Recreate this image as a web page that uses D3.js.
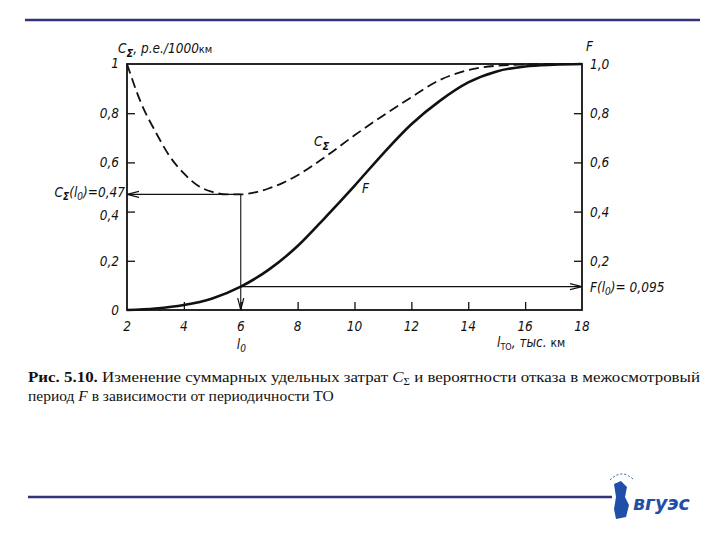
<!DOCTYPE html>
<html><head><meta charset="utf-8">
<script src="https://cdn.jsdelivr.net/npm/d3@7"></script>
<style>
body{margin:0;background:#fff}
svg{display:block}
.tk{font-family:"DejaVu Sans Condensed","Liberation Sans Narrow",sans-serif;font-style:italic;font-size:13.5px;fill:#111}
</style></head>
<body>
<svg id="c" width="720" height="540"></svg>
<script>
const xTicks = [2,4,6,8,10,12,14,16,18];
const yTicksLeft = [0,0.2,0.4,0.6,0.8,1];
const yLabelsLeft = ["0","0,2","0,4","0,6","0,8","1"];
const yTicksRight = [0.2,0.4,0.6,0.8,1];
const yLabelsRight = ["0,2","0,4","0,6","0,8","1,0"];
const costX = [2,2.5,3,3.5,4,4.5,5,5.5,6,6.5,7,7.5,8,9,10,11,12,13,14,15,16,17,18];
const costY = [1.0,0.84,0.725,0.625,0.555,0.505,0.48,0.47,0.47,0.478,0.495,0.518,0.548,0.625,0.71,0.79,0.865,0.935,0.975,0.993,0.998,1.0,1.0];
const failX = [2,3,4,5,6,7,8,9,10,11,12,13,14,15,16,17,18];
const failY = [0,0.006,0.02,0.047,0.095,0.165,0.26,0.38,0.505,0.635,0.755,0.85,0.925,0.97,0.99,0.997,1.0];
const l0 = 6, cAtL0 = 0.47, fAtL0 = 0.095;

const svg = d3.select("#c");
const x = d3.scaleLinear().domain([2,18]).range([127,582]);
const y = d3.scaleLinear().domain([0,1]).range([310,64]);

// decorative slide lines
svg.append("line").attr("x1",25).attr("x2",700).attr("y1",20).attr("y2",20).attr("stroke","#333377").attr("stroke-width",2.5);
svg.append("line").attr("x1",28).attr("x2",612).attr("y1",497).attr("y2",497).attr("stroke","#333377").attr("stroke-width",2.5);

const defs = svg.append("defs");
defs.append("marker").attr("id","arr").attr("viewBox","0 0 12 8").attr("refX",12).attr("refY",4)
  .attr("markerWidth",12).attr("markerHeight",8).attr("markerUnits","userSpaceOnUse").attr("orient","auto")
  .append("path").attr("d","M0,1 L12,4 L0,7").attr("fill","none").attr("stroke","#111").attr("stroke-width",1.2);

// frame
const g = svg.append("g");
g.append("rect").attr("x",x(2)).attr("y",y(1)).attr("width",x(18)-x(2)).attr("height",y(0)-y(1))
  .attr("fill","none").attr("stroke","#111").attr("stroke-width",1.8);

// ticks (inward)
const styleAx = s=>{s.select(".domain").remove();s.selectAll("line").attr("stroke","#111").attr("stroke-width",1.3);};
g.append("g").attr("transform",`translate(${x(2)},0)`).call(d3.axisRight(y).tickValues(yTicksLeft.slice(1,5)).tickSize(8).tickFormat("")).call(styleAx);
g.append("g").attr("transform",`translate(${x(18)},0)`).call(d3.axisLeft(y).tickValues(yTicksRight.slice(0,4)).tickSize(8).tickFormat("")).call(styleAx);
g.append("g").attr("transform",`translate(0,${y(0)})`).call(d3.axisTop(x).tickValues(xTicks.slice(1,8)).tickSize(8).tickFormat("")).call(styleAx);

// tick labels
yTicksLeft.forEach((v,i)=>{ if(v===0.4) return;
  g.append("text").attr("class","tk").attr("x",x(2)-8).attr("y",y(v)+ (v===1?4:5)).attr("text-anchor","end").text(yLabelsLeft[i]);});
g.append("text").attr("class","tk").attr("x",x(2)-8).attr("y",y(0.4)+8).attr("text-anchor","end").text("0,4");
yTicksRight.forEach((v,i)=>{
  g.append("text").attr("class","tk").attr("x",x(18)+8).attr("y",y(v)+5).attr("text-anchor","start").text(yLabelsRight[i]);});
xTicks.forEach(v=>{
  g.append("text").attr("class","tk").attr("x",x(v)).attr("y",y(0)+21).attr("text-anchor","middle").text(v);});

// axis titles
const t1 = g.append("text").attr("class","tk").attr("x",118).attr("y",53);
t1.append("tspan").text("C");
t1.append("tspan").attr("dy",4).attr("font-size",11).attr("font-weight","bold").text("Σ");
t1.append("tspan").attr("dy",-4).text(", р.е./1000");
t1.append("tspan").attr("font-style","normal").attr("font-size",11).text("км");
g.append("text").attr("class","tk").attr("x",586).attr("y",51).text("F");
const t2 = g.append("text").attr("class","tk").attr("x",497).attr("y",347);
t2.append("tspan").text("l");
t2.append("tspan").attr("dy",3).attr("font-size",9).attr("font-style","normal").text("ТО");
t2.append("tspan").attr("dy",-3).text(", тыс. ");
t2.append("tspan").attr("font-style","normal").attr("font-size",12).text("км");
const t3 = g.append("text").attr("class","tk").attr("x",x(l0)-4).attr("y",349);
t3.append("tspan").text("l");
t3.append("tspan").attr("dy",3).attr("font-size",10).text("0");

// annotation labels
const t4 = g.append("text").attr("class","tk").attr("x",x(2)-2).attr("y",y(cAtL0)+3).attr("text-anchor","end");
t4.append("tspan").text("C");
t4.append("tspan").attr("dy",3).attr("font-size",10).attr("font-weight","bold").text("Σ");
t4.append("tspan").attr("dy",-3).text("(l");
t4.append("tspan").attr("dy",3).attr("font-size",10).text("0");
t4.append("tspan").attr("dy",-3).text(")=0,47");
const t5 = g.append("text").attr("class","tk").attr("x",x(18)+8).attr("y",y(fAtL0)+5);
t5.append("tspan").text("F(l");
t5.append("tspan").attr("dy",3).attr("font-size",10).text("0");
t5.append("tspan").attr("dy",-3).text(")= 0,095");

// curve labels
const t6 = g.append("text").attr("class","tk").attr("x",314).attr("y",146);
t6.append("tspan").text("C");
t6.append("tspan").attr("dy",4).attr("font-size",11).attr("font-weight","bold").text("Σ");
g.append("text").attr("class","tk").attr("x",362).attr("y",193).text("F");

// annotation arrows
g.append("line").attr("x1",x(l0)).attr("y1",y(cAtL0)).attr("x2",x(2)).attr("y2",y(cAtL0))
  .attr("stroke","#111").attr("stroke-width",1.1).attr("marker-end","url(#arr)");
g.append("line").attr("x1",x(l0)).attr("y1",y(cAtL0)).attr("x2",x(l0)).attr("y2",y(0))
  .attr("stroke","#111").attr("stroke-width",1.1).attr("marker-end","url(#arr)");
g.append("line").attr("x1",x(l0)).attr("y1",y(fAtL0)).attr("x2",x(18)).attr("y2",y(fAtL0))
  .attr("stroke","#111").attr("stroke-width",1.1).attr("marker-end","url(#arr)");

// curves
const line = d3.line().x(d=>x(d[0])).y(d=>y(d[1])).curve(d3.curveMonotoneX);
g.append("path").datum(costX.map((v,i)=>[v,costY[i]])).attr("d",line)
  .attr("fill","none").attr("stroke","#111").attr("stroke-width",1.8).attr("stroke-dasharray","10,5");
g.append("path").datum(failX.map((v,i)=>[v,failY[i]])).attr("d",line)
  .attr("fill","none").attr("stroke","#111").attr("stroke-width",2.6);

// caption
const cap = svg.append("g").attr("font-family","'Liberation Serif','DejaVu Serif',serif").attr("font-size",15.5).attr("fill","#111");
const c1 = cap.append("text").attr("x",28).attr("y",382).attr("textLength",672).attr("lengthAdjust","spacingAndGlyphs");
c1.append("tspan").attr("font-weight","bold").text("Рис. 5.10.");
c1.append("tspan").text(" Изменение суммарных удельных затрат ");
c1.append("tspan").attr("font-style","italic").text("C");
c1.append("tspan").attr("font-size",10).attr("dy",3).text("Σ");
c1.append("tspan").attr("dy",-3).text(" и вероятности отказа в межосмотровый");
const c2 = cap.append("text").attr("x",28).attr("y",401);
c2.append("tspan").text("период ");
c2.append("tspan").attr("font-style","italic").text("F");
c2.append("tspan").text(" в зависимости от периодичности ТО");

// logo
const logo = svg.append("g");
logo.append("path").attr("d","M610,480 q12,-12 24,0").attr("fill","none").attr("stroke","#2255aa").attr("stroke-width",1).attr("stroke-dasharray","2,2");
logo.append("path").attr("d","M614,484 l7,-3 l6,6 l-2,10 l4,8 l-3,12 l-10,2 l-2,-10 l2,-12 z").attr("fill","#1f4fa8");
logo.append("text").attr("x",633).attr("y",510).attr("font-family","'DejaVu Sans',sans-serif").attr("font-style","italic").attr("font-weight","bold").attr("font-size",19).attr("fill","#1f4fa8").text("вгуэс");
</script>
</body></html>
